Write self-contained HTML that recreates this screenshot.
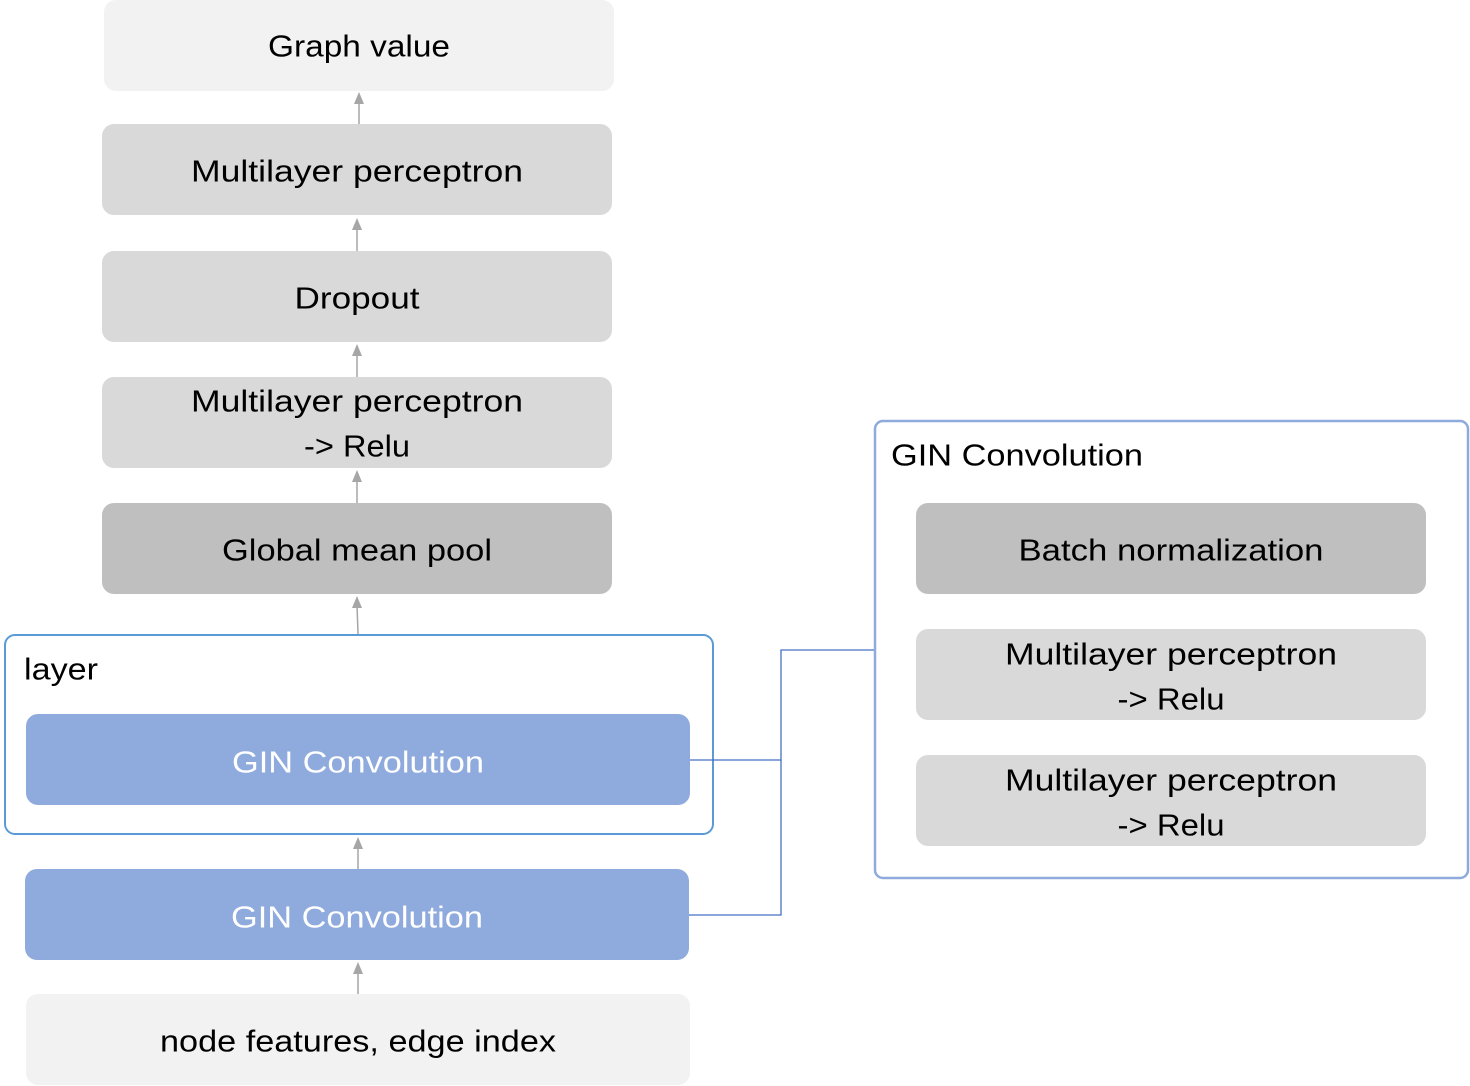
<!DOCTYPE html>
<html><head><meta charset="utf-8"><style>
html,body{margin:0;padding:0;background:#fff;}
svg{display:block;}
text{font-family:"Liberation Sans",sans-serif;font-size:31px;text-anchor:middle;dominant-baseline:central;fill:#000;}
</style></head><body>
<svg width="1470" height="1086" viewBox="0 0 1470 1086" xmlns="http://www.w3.org/2000/svg">
<rect x="104" y="0" width="510" height="91" rx="12" fill="#f2f2f2"/>
<text x="359" y="46" textLength="182" lengthAdjust="spacingAndGlyphs">Graph value</text>
<rect x="102" y="124" width="510" height="91" rx="12" fill="#d9d9d9"/>
<text x="357" y="171" textLength="332" lengthAdjust="spacingAndGlyphs">Multilayer perceptron</text>
<rect x="102" y="251" width="510" height="91" rx="12" fill="#d9d9d9"/>
<text x="357" y="298" textLength="125" lengthAdjust="spacingAndGlyphs">Dropout</text>
<rect x="102" y="377" width="510" height="91" rx="12" fill="#d9d9d9"/>
<text x="357" y="401" textLength="332" lengthAdjust="spacingAndGlyphs">Multilayer perceptron</text>
<text x="357" y="446" textLength="106" lengthAdjust="spacingAndGlyphs">-&gt; Relu</text>
<rect x="102" y="503" width="510" height="91" rx="12" fill="#bfbfbf"/>
<text x="357" y="550" textLength="270" lengthAdjust="spacingAndGlyphs">Global mean pool</text>
<rect x="5" y="635" width="708" height="199" rx="10" fill="#fff" stroke="#5b9bd5" stroke-width="2"/>
<text x="24" y="669" style="text-anchor:start" textLength="74" lengthAdjust="spacingAndGlyphs">layer</text>
<rect x="26" y="714" width="664" height="91" rx="12" fill="#8faadc"/>
<text x="358" y="762" style="fill:#fff" textLength="252" lengthAdjust="spacingAndGlyphs">GIN Convolution</text>
<rect x="25" y="869" width="664" height="91" rx="12" fill="#8faadc"/>
<text x="357" y="917" style="fill:#fff" textLength="252" lengthAdjust="spacingAndGlyphs">GIN Convolution</text>
<rect x="26" y="994" width="664" height="91" rx="12" fill="#f2f2f2"/>
<text x="358" y="1041" textLength="396" lengthAdjust="spacingAndGlyphs">node features, edge index</text>
<g stroke="#a6a6a6" stroke-width="1.5" fill="none">
<line x1="359" y1="124" x2="359" y2="100"/>
<line x1="357" y1="251" x2="357" y2="226"/>
<line x1="357" y1="377" x2="357" y2="352"/>
<line x1="357" y1="503" x2="357" y2="478"/>
<line x1="358" y1="634" x2="357" y2="605"/>
<line x1="358" y1="869" x2="358" y2="845"/>
<line x1="358" y1="994" x2="358" y2="971"/>
<line x1="1171" y1="629" x2="1171" y2="605"/>
<line x1="1171" y1="755" x2="1171" y2="731"/>
</g>
<g fill="#a6a6a6">
<polygon points="359,92 354,104 364,104"/>
<polygon points="357,218 352,230 362,230"/>
<polygon points="357,344 352,356 362,356"/>
<polygon points="357,470 352,482 362,482"/>
<polygon points="357,596 352,608 362,608"/>
<polygon points="358,837 353,849 363,849"/>
<polygon points="358,962 353,974 363,974"/>
<polygon points="1171,596 1166,608 1176,608"/>
<polygon points="1171,722 1166,734 1176,734"/>
</g>
<g stroke="#4472c4" stroke-width="1.3" fill="none">
<polyline points="690,760 781,760 781,650 875,650"/>
<polyline points="689,915 781,915 781,760"/>
</g>
<rect x="875" y="421" width="593" height="457" rx="8" fill="#fff" stroke="#8faadc" stroke-width="2.5"/>
<text x="891" y="455" style="text-anchor:start" textLength="252" lengthAdjust="spacingAndGlyphs">GIN Convolution</text>
<rect x="916" y="503" width="510" height="91" rx="12" fill="#bfbfbf"/>
<text x="1171" y="550" textLength="305" lengthAdjust="spacingAndGlyphs">Batch normalization</text>
<rect x="916" y="629" width="510" height="91" rx="12" fill="#d9d9d9"/>
<text x="1171" y="654" textLength="332" lengthAdjust="spacingAndGlyphs">Multilayer perceptron</text>
<text x="1171" y="699" textLength="107" lengthAdjust="spacingAndGlyphs">-&gt; Relu</text>
<rect x="916" y="755" width="510" height="91" rx="12" fill="#d9d9d9"/>
<text x="1171" y="780" textLength="332" lengthAdjust="spacingAndGlyphs">Multilayer perceptron</text>
<text x="1171" y="825" textLength="107" lengthAdjust="spacingAndGlyphs">-&gt; Relu</text>
</svg>
</body></html>
